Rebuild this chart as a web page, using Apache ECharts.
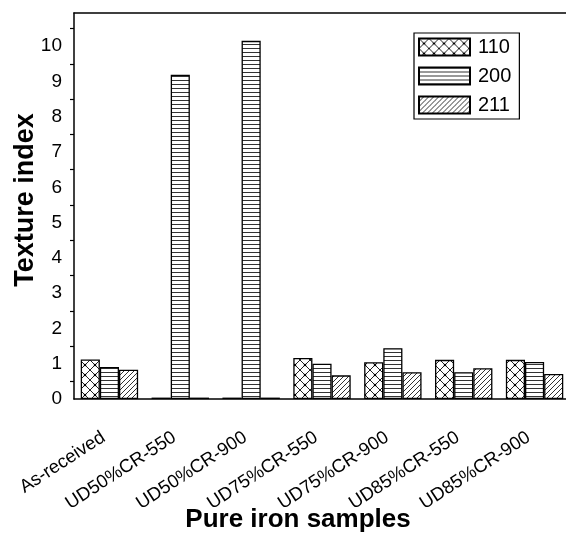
<!DOCTYPE html>
<html>
<head>
<meta charset="utf-8">
<script src="https://cdn.jsdelivr.net/npm/echarts@6/dist/echarts.min.js"></script>
<style>
  html, body { margin: 0; padding: 0; background: #fff; }
  #chart { width: 566px; height: 535px; }
</style>
</head>
<body>
<div id="chart"></div>
<script>
  // chart data
  const categories = ['As-received', 'UD50%CR-550', 'UD50%CR-900', 'UD75%CR-550', 'UD75%CR-900', 'UD85%CR-550', 'UD85%CR-900']
  const t110 = [1.12, 0.04, 0.04, 1.16, 1.04, 1.11, 1.11]
  const t200 = [0.91, 9.19, 10.15, 1.00, 1.44, 0.76, 1.05]
  const t211 = [0.83, 0.04, 0.04, 0.67, 0.76, 0.87, 0.71]
  const seriesNames = ['110', '200', '211']

  // hatch fills, drawn on small canvases
  function makePattern(kind) {
    const c = document.createElement('canvas')
    const ctx = c.getContext('2d')
    if (kind === 'cross') {
      c.width = 10; c.height = 10
      ctx.fillStyle = '#fff'; ctx.fillRect(0, 0, 10, 10)
      ctx.strokeStyle = '#222'; ctx.lineWidth = 1
      ctx.beginPath()
      ctx.moveTo(0, 0); ctx.lineTo(10, 10)
      ctx.moveTo(10, 0); ctx.lineTo(0, 10)
      ctx.stroke()
      ctx.fillStyle = '#000'
      ctx.beginPath(); ctx.arc(5, 5, 1.3, 0, Math.PI * 2); ctx.fill()
    } else if (kind === 'horiz') {
      c.width = 4; c.height = 4
      ctx.fillStyle = '#fff'; ctx.fillRect(0, 0, 4, 4)
      ctx.fillStyle = '#333'; ctx.fillRect(0, 0, 4, 1)
    } else {
      c.width = 5; c.height = 5
      ctx.fillStyle = '#fff'; ctx.fillRect(0, 0, 5, 5)
      ctx.strokeStyle = '#333'; ctx.lineWidth = 1
      ctx.beginPath()
      ctx.moveTo(-1, 6); ctx.lineTo(6, -1)
      ctx.moveTo(-1, 1); ctx.lineTo(1, -1)
      ctx.moveTo(4, 6); ctx.lineTo(6, 4)
      ctx.stroke()
    }
    return { image: c, repeat: 'repeat' }
  }

  const fills = [makePattern('cross'), makePattern('horiz'), makePattern('diag')]
  const values = [t110, t200, t211]

  const myChart = echarts.init(document.getElementById('chart'))

  const frameLine = { show: true, lineStyle: { color: '#000', width: 1.5 } }
  const yMax = 10.94

  const option = {
    backgroundColor: '#fff',
    animation: false,
    textStyle: { fontFamily: 'Liberation Sans, Arial, sans-serif' },
    grid: { left: 74, top: 13, width: 496, height: 386, outerBoundsMode: 'none' },
    legend: {
      orient: 'vertical',
      left: 414,
      top: 33,
      icon: 'rect',
      itemWidth: 51,
      itemHeight: 17,
      itemGap: 9,
      padding: [4, 8, 4, 4],
      borderColor: '#000',
      borderWidth: 1.2,
      textStyle: { fontSize: 20, color: '#000', padding: [0, 0, 0, 3] },
      data: seriesNames
    },
    xAxis: [
      {
        type: 'category',
        data: categories,
        position: 'bottom',
        axisLine: frameLine,
        axisTick: { alignWithLabel: true, length: 7, lineStyle: { color: '#000', width: 1.5 } },
        axisLabel: { rotate: 33, fontSize: 18.5, color: '#000', margin: 33, interval: 0, padding: [0, 7, 0, 0] },
        name: 'Pure iron samples',
        nameLocation: 'middle',
        nameGap: 108,
        nameMoveOverlap: false,
        nameTextStyle: { fontSize: 26, fontWeight: 'bold', color: '#000', padding: [0, 48, 0, 0] }
      },
      {
        type: 'category',
        data: categories,
        position: 'bottom',
        axisLine: { show: false },
        axisTick: { length: 4, lineStyle: { color: '#000', width: 1.2 } },
        axisLabel: { show: false }
      },
      {
        type: 'category',
        data: categories,
        position: 'top',
        axisLine: frameLine,
        axisTick: { inside: true, alignWithLabel: true, length: 6, lineStyle: { color: '#000', width: 1.5 } },
        axisLabel: { show: false }
      },
      {
        type: 'category',
        data: categories,
        position: 'top',
        axisLine: { show: false },
        axisTick: { inside: true, length: 4, lineStyle: { color: '#000', width: 1.2 } },
        axisLabel: { show: false }
      }
    ],
    yAxis: [
      {
        type: 'value',
        min: 0,
        max: yMax,
        interval: 1,
        position: 'left',
        axisLine: frameLine,
        axisTick: { length: 7, lineStyle: { color: '#000', width: 1.5 } },
        minorTick: { show: true, splitNumber: 2, length: 4, lineStyle: { color: '#000', width: 1.2 } },
        splitLine: { show: false },
        axisLabel: { fontSize: 19, color: '#000', margin: 12, showMaxLabel: false },
        name: 'Texture index',
        nameLocation: 'middle',
        nameGap: 35,
        nameMoveOverlap: false,
        nameTextStyle: { fontSize: 27, fontWeight: 'bold', color: '#000', padding: [0, 0, 0, 12] }
      },
      {
        type: 'value',
        min: 0,
        max: yMax,
        interval: 1,
        position: 'right',
        axisLine: frameLine,
        axisTick: { inside: true, length: 7, lineStyle: { color: '#000', width: 1.5 } },
        minorTick: { show: false },
        splitLine: { show: false },
        axisLabel: { show: false }
      }
    ],
    series: seriesNames.map(function (name, i) {
      return {
        name: name,
        type: 'bar',
        data: values[i],
        barGap: 0,
        barCategoryGap: '19%',
        itemStyle: { color: fills[i], borderColor: '#000', borderWidth: 1.3 }
      }
    })
  }
  myChart.setOption(option)
</script>
</body>
</html>
